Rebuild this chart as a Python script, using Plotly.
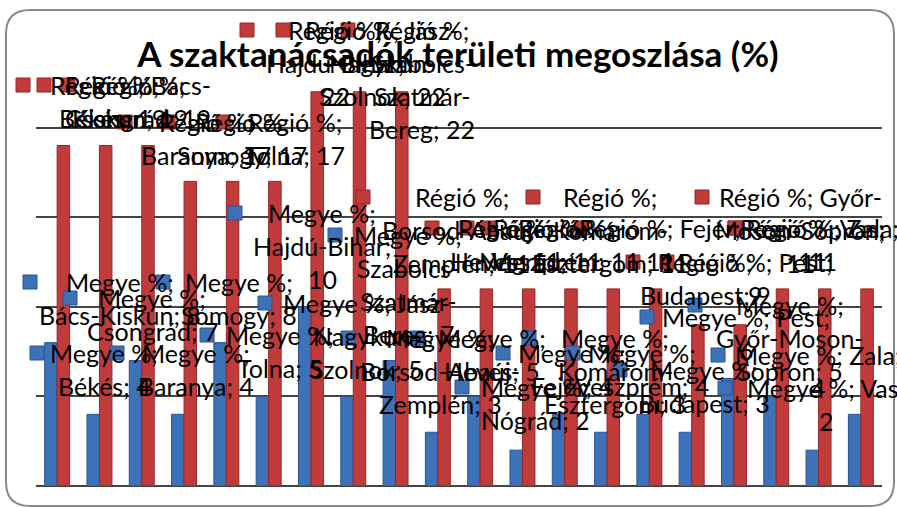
import plotly.graph_objects as go

# ---------------- data ----------------
counties = ["Bács-Kiskun", "Békés", "Csongrád", "Baranya", "Somogy", "Tolna",
            "Hajdú-Bihar", "Jász-Nagykun-Szolnok", "Szabolcs-Szatmár-Bereg",
            "Borsod-Abaúj-Zemplén", "Heves", "Nógrád", "Fejér", "Komárom-Esztergom",
            "Veszprém", "Budapest", "Pest", "Győr-Moson-Sopron", "Vas", "Zala"]
megye = [8, 4, 7, 4, 8, 5, 10, 5, 7, 3, 5, 2, 4, 3, 4, 3, 6, 5, 2, 4]
regio = [19, 19, 19, 17, 17, 17, 22, 22, 22, 11, 11, 11, 11, 11, 11, 9, 9, 11, 11, 11]
series_names = ["Megye %", "Régió %"]
title_text = "A szaktanácsadók területi megoszlása (%)"
y_ticks = [0, 5, 10, 15, 20, 25]

# ---------------- layout helpers ----------------
W, H = 897, 508
L, R, T, B = 36, 882, 38, 486
BLUE, BLUE_D = "#3d72b8", "#2a5590"
RED, RED_D = "#c23b3b", "#962727"
FONT = "Lato"
LS = 33  # label line step (px)


def px(x):
    return (x - L) / (R - L)


def py(y):
    return (B - y) / (B - T)


# label placement: (marker x, marker y, text centre x, line templates)
S2 = ["{s};", "{n}; {v}"]
blue_lbl = [
    (30, 282, 120, S2), (37, 353, 104, S2), (70, 298, 152, S2), (117, 353, 196, S2),
    (163, 282, 239, S2), (207, 335, 280, S2), (235, 213, 322, ["{s};", "{n};", "{v}"]),
    (265, 303, 366, ["{s}; Jász-", "Nagykun-", "Szolnok; {v}"]),
    (335, 235, 408, ["{s};", "Szabolcs-", "Szatmár-", "Bereg; {v}"]),
    (348, 338, 440, ["{s};", "Borsod-Abaúj-", "Zemplén; {v}"]),
    (417, 338, 492, S2), (462, 387, 535, S2), (503, 353, 572, S2),
    (529, 338, 615, ["{s};", "Komárom-", "Esztergom; {v}"]),
    (573, 353, 642, S2), (620, 370, 704, S2), (647, 317, 746, ["{s}; {n};", "{v}"]),
    (695, 305, 790, ["{s};", "Győr-Moson-", "Sopron; {v}"]),
    (725, 388, 826, ["{s}; {n};", "{v}"]), (718, 355, 818, ["{s}; {n};", "{v}"]),
]
red_lbl = [
    (23, 85, 130, ["{s}; Bács-", "Kiskun; {v}"]), (44, 85, 112, S2), (68, 85, 138, S2),
    (125, 122, 206, S2), (168, 122, 242, S2), (223, 122, 295, S2),
    (247, 30, 335, ["{s};", "Hajdú-Bihar;", "{v}"]),
    (283, 30, 382, ["{s}; Jász-", "Nagykun-", "Szolnok; {v}"]),
    (348, 30, 422, ["{s};", "Szabolcs-", "Szatmár-", "Bereg; {v}"]),
    (363, 197, 462, ["{s};", "Borsod-Abaúj-", "Zemplén; {v}"]),
    (432, 228, 505, S2), (467, 228, 540, S2), (582, 228, 660, ["{s}; {n};", "{v}"]),
    (533, 197, 610, ["{s};", "Komárom-", "Esztergom; {v}"]),
    (488, 228, 565, S2), (633, 262, 705, S2), (667, 262, 755, ["{s}; {n};", "{v}"]),
    (702, 197, 800, ["{s}; Győr-", "Moson-Sopron;", "{v}"]),
    (735, 228, 812, ["{s}; {n};", "{v}"]), (735, 228, 822, ["{s}; {n};", "{v}"]),
]

fig = go.Figure()
fig.add_trace(go.Bar(x=counties, y=megye, name=series_names[0],
                     marker=dict(color=BLUE, line=dict(color=BLUE_D, width=1))))
fig.add_trace(go.Bar(x=counties, y=regio, name=series_names[1],
                     marker=dict(color=RED, line=dict(color=RED_D, width=1))))

shapes = []
annotations = []
for lbls, vals, sname, col, dcol in [(blue_lbl, megye, series_names[0], BLUE, BLUE_D),
                                      (red_lbl, regio, series_names[1], RED, RED_D)]:
    for i, (mx, my, cx, tmpl) in enumerate(lbls):
        shapes.append(dict(type="rect", xref="paper", yref="paper",
                           x0=px(mx - 7), x1=px(mx + 7), y0=py(my + 7), y1=py(my - 7),
                           fillcolor=col, line=dict(color=dcol, width=1), layer="above"))
        for k, t in enumerate(tmpl):
            txt = t.format(s=sname, n=counties[i], v=vals[i])
            annotations.append(dict(x=px(cx), y=py(my + k * LS), xref="paper", yref="paper",
                                    text=txt, showarrow=False, xanchor="center",
                                    yanchor="middle",
                                    font=dict(family=FONT, size=25, color="black")))

# rounded chart border
bx0, by0, bx1, by1, r = 6, 10, 894, 506, 24
path = (f"M {px(bx0 + r)},{py(by0)} L {px(bx1 - r)},{py(by0)} "
        f"Q {px(bx1)},{py(by0)} {px(bx1)},{py(by0 + r)} L {px(bx1)},{py(by1 - r)} "
        f"Q {px(bx1)},{py(by1)} {px(bx1 - r)},{py(by1)} L {px(bx0 + r)},{py(by1)} "
        f"Q {px(bx0)},{py(by1)} {px(bx0)},{py(by1 - r)} L {px(bx0)},{py(by0 + r)} "
        f"Q {px(bx0)},{py(by0)} {px(bx0 + r)},{py(by0)} Z")
shapes.append(dict(type="path", xref="paper", yref="paper", path=path,
                   line=dict(color="#8a8a8a", width=2), layer="below"))

fig.update_layout(
    width=W, height=H,
    margin=dict(l=L, r=W - R, t=T, b=H - B, pad=0),
    paper_bgcolor="white", plot_bgcolor="white",
    barmode="group", bargap=0.41, bargroupgap=0.0,
    showlegend=False,
    title=dict(text=f"<b>{title_text}</b>", x=458 / W, y=1 - 55 / H,
               xanchor="center", yanchor="middle",
               font=dict(family=FONT, size=35, color="black")),
    xaxis=dict(showticklabels=False, showgrid=False, zeroline=False,
               showline=False, ticks=""),
    yaxis=dict(range=[0, 25], tickvals=y_ticks, showticklabels=False,
               showgrid=True, gridcolor="#444444", gridwidth=2,
               zeroline=True, zerolinecolor="#444444", zerolinewidth=2,
               showline=False, ticks=""),
    shapes=shapes, annotations=annotations,
)

fig.write_html("out.html", config={"displayModeBar": False},
               post_script="document.body.style.margin='0';")
